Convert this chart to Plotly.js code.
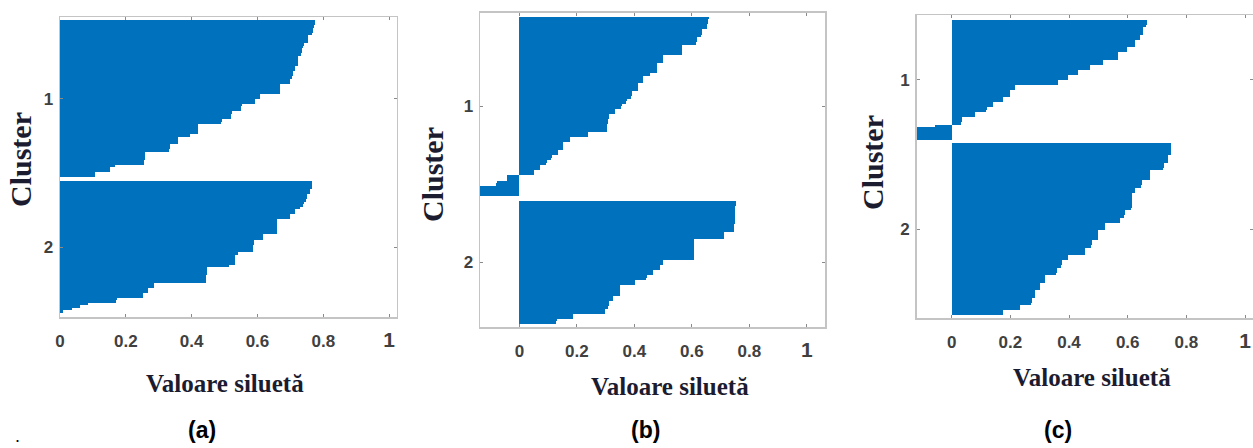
<!DOCTYPE html>
<html>
<head>
<meta charset="utf-8">
<script src="https://cdn.plot.ly/plotly-3.0.1.min.js"></script>
<style>html,body{margin:0;padding:0;background:#fff;}#chart{width:1253px;height:448px;}</style>
</head>
<body>
<div id="chart"></div>
<script>
// ---- Data: silhouette values per sample, sorted within each cluster ----
const clusterLabels = ['1', '2'];
const xTickVals = [0, 0.2, 0.4, 0.6, 0.8, 1];
const xTickText = ['0', '0.2', '0.4', '0.6', '0.8', '<span style="font-size:21px">1</span>'];
const panelLabels = ['(a)', '(b)', '(c)'];
const xTitle = 'Valoare siluetă';
const yTitle = 'Cluster';

const silA1 = [0.775,0.774,0.772, 0.770,0.768,0.765, 0.755,0.755,0.754, 0.740,0.738,0.736,0.734,0.732,
  0.724,0.724,0.723,0.722, 0.714,0.713, 0.707,0.707,0.706, 0.700,0.699, 0.669,0.669,0.668,0.667,
  0.608,0.607, 0.593,0.592, 0.552,0.551,0.550, 0.522,0.521,0.520, 0.491,0.490,
  0.420,0.420,0.419,0.418, 0.395, 0.360,0.359,0.358, 0.334,0.333,0.332,
  0.258,0.258,0.257,0.256,0.255, 0.167, 0.152,0.151, 0.106,0.105];
const silA2 = [0.766,0.765,0.765, 0.760,0.759, 0.750,0.749,0.748, 0.740,0.739, 0.730, 0.714,0.713, 0.700,0.699,
  0.659,0.659,0.659,0.658,0.658,0.658, 0.618,0.617, 0.588,0.588,0.587,0.587,0.587, 0.542,
  0.532,0.532,0.531,0.531, 0.512, 0.446,0.446,0.446,0.445,0.445,0.445,
  0.287,0.286, 0.268,0.267, 0.253,0.252, 0.172,0.171, 0.086, 0.061, 0.035, 0.010];

const silB1 = [0.658,0.657,0.656, 0.652,0.651, 0.634,0.634,0.633, 0.617,0.617,0.616,
  0.565,0.565,0.564,0.564, 0.501,0.501,0.500, 0.478,0.478,0.477,0.477, 0.454,
  0.431,0.431,0.430, 0.414,0.414,0.413, 0.390,0.390,0.389, 0.373,0.372, 0.356,0.355, 0.333,0.332,
  0.310,0.310,0.309,0.309, 0.304,0.304,0.303, 0.240,0.239, 0.176,0.175, 0.153,0.153,0.152,
  0.136,0.135, 0.112,0.111, 0.095,0.094, 0.072,0.071, 0.051,0.050,
  -0.042,-0.043, -0.079,-0.080, -0.150,-0.151,-0.152,-0.153];
const silB2 = [0.752,0.752,0.751,0.751,0.750,0.750,0.750,0.749,0.749,0.748,0.748,0.747,
  0.712,0.712,0.711, 0.608,0.608,0.608,0.607,0.607,0.607,0.606,0.606,
  0.500,0.499, 0.489,0.488, 0.464,0.463, 0.443,0.442, 0.402,0.401,
  0.350,0.350,0.349,0.349, 0.327,0.326, 0.310,0.310,0.309, 0.298,0.297, 0.188,0.187, 0.130,0.129];

const silC1 = [0.665,0.665,0.664, 0.653,0.653,0.652, 0.642,0.641, 0.625,0.625,0.624, 0.597,0.596,
  0.568,0.568,0.567, 0.517,0.516, 0.472,0.471, 0.432,0.431, 0.398,0.397, 0.364,0.363,
  0.216,0.215, 0.199,0.199,0.198, 0.176,0.175, 0.142,0.141, 0.119,0.118, 0.080,0.079,
  0.034,0.034,0.033, -0.055, -0.130,-0.131,-0.132,-0.133,-0.134];
const silC2 = [0.748,0.747,0.747,0.746,0.746, 0.739,0.739,0.738, 0.722,0.722,0.721,
  0.676,0.676,0.675,0.675, 0.648,0.648,0.647, 0.625,0.624,
  0.614,0.614,0.614,0.613,0.613,0.613,0.612, 0.590,0.590,0.589, 0.575,0.574,
  0.523,0.523,0.522, 0.500,0.500,0.499,0.499, 0.477,0.477,0.476, 0.455,0.455,0.454,
  0.398,0.397, 0.375,0.375,0.374, 0.358,0.358,0.357, 0.318,0.318,0.317,
  0.301,0.301,0.300, 0.284,0.284,0.283, 0.273,0.273,0.272, 0.233,0.232, 0.176,0.175];

// ---- Layout geometry (pixels of the 1253x448 canvas) ----
const W = 1253, H = 448;
const panels = [
  {c1: silA1, c2: silA2, px: [60, 396.7], py: [17, 317], xr: [0, 1.023], pad: [1.3, 1.6, 1.6],
   xt: [225, 383], yt: [20, 160], lab: [202, 430]},
  {c1: silB1, c2: silB2, px: [480, 825], py: [12.5, 327], xr: [-0.137, 1.063], pad: [1.6, 1.95, 1.2],
   xt: [670, 386], yt: [432, 175], lab: [645, 430]},
  {c1: silC1, c2: silC2, px: [916.7, 1253], py: [15, 318.3], xr: [-0.119, 1.027], pad: [2.0, 1.3, 1.3],
   xt: [1092, 377], yt: [872, 163], lab: [1058, 430]}
];

const barColor = '#0072bd';
const frameColor = '#c4c4c4';
const tickFont = {family: 'Liberation Sans, Arial, sans-serif', size: 17, color: '#404040', weight: 'bold'};
const titleColor = '#1c1c30';

const traces = [];
const layout = {
  width: W, height: H,
  margin: {l: 0, r: 0, t: 0, b: 0},
  paper_bgcolor: '#ffffff', plot_bgcolor: '#ffffff',
  showlegend: false,
  bargap: 0,
  annotations: []
};

panels.forEach((p, k) => {
  const n = k === 0 ? '' : String(k + 1);
  const xa = 'x' + n, ya = 'y' + n;
  const [padTop, gap, padBot] = p.pad;
  const start2 = padTop + p.c1.length + gap;
  const y1 = p.c1.map((v, i) => padTop + i + 0.5);
  const y2 = p.c2.map((v, i) => start2 + i + 0.5);
  const total = start2 + p.c2.length + padBot;
  [[p.c1, y1], [p.c2, y2]].forEach(([vals, ys]) => {
    traces.push({
      type: 'bar', orientation: 'h', x: vals, y: ys, width: 1,
      xaxis: xa, yaxis: ya,
      marker: {color: barColor, line: {width: 0}},
      hoverinfo: 'skip'
    });
  });
  const common = {
    showline: true, mirror: 'ticks', linecolor: frameColor, linewidth: 1.5,
    ticks: 'inside', ticklen: 3, tickcolor: '#8a8a8a', tickwidth: 1,
    showgrid: false, zeroline: false, tickfont: tickFont, fixedrange: true
  };
  layout['xaxis' + n] = Object.assign({}, common, {
    domain: [p.px[0] / W, p.px[1] / W], range: p.xr, anchor: ya,
    tickmode: 'array', tickvals: xTickVals, ticktext: xTickText, ticklabelstandoff: 8
  });
  layout['yaxis' + n] = Object.assign({}, common, {
    domain: [1 - p.py[1] / H, 1 - p.py[0] / H], range: [total, 0], anchor: xa,
    tickmode: 'array',
    tickvals: [padTop + p.c1.length / 2, start2 + p.c2.length / 2],
    ticktext: clusterLabels, ticklabelstandoff: 2
  });
  layout.annotations.push({
    xref: 'paper', yref: 'paper', x: p.xt[0] / W, y: 1 - p.xt[1] / H,
    xanchor: 'center', yanchor: 'middle', showarrow: false, text: xTitle,
    font: {family: 'Liberation Serif, Times New Roman, serif', size: 25, color: titleColor, weight: 'bold'}
  });
  layout.annotations.push({
    xref: 'paper', yref: 'paper', x: p.yt[0] / W, y: 1 - p.yt[1] / H,
    xanchor: 'center', yanchor: 'middle', showarrow: false, text: yTitle, textangle: -90,
    font: {family: 'Liberation Serif, Times New Roman, serif', size: 30, color: titleColor, weight: 'bold'}
  });
  layout.annotations.push({
    xref: 'paper', yref: 'paper', x: p.lab[0] / W, y: 1 - p.lab[1] / H,
    xanchor: 'center', yanchor: 'middle', showarrow: false, text: panelLabels[k],
    font: {family: 'Liberation Sans, Arial, sans-serif', size: 23, color: '#000000', weight: 'bold'}
  });
});

layout.annotations.push({
  xref: 'paper', yref: 'paper', x: 17 / W, y: 1 - 436 / H,
  xanchor: 'center', yanchor: 'middle', showarrow: false, text: '.',
  font: {family: 'Liberation Sans, Arial, sans-serif', size: 18, color: '#000000'}
});

Plotly.newPlot('chart', traces, layout, {displayModeBar: false, staticPlot: true});
</script>
</body>
</html>
